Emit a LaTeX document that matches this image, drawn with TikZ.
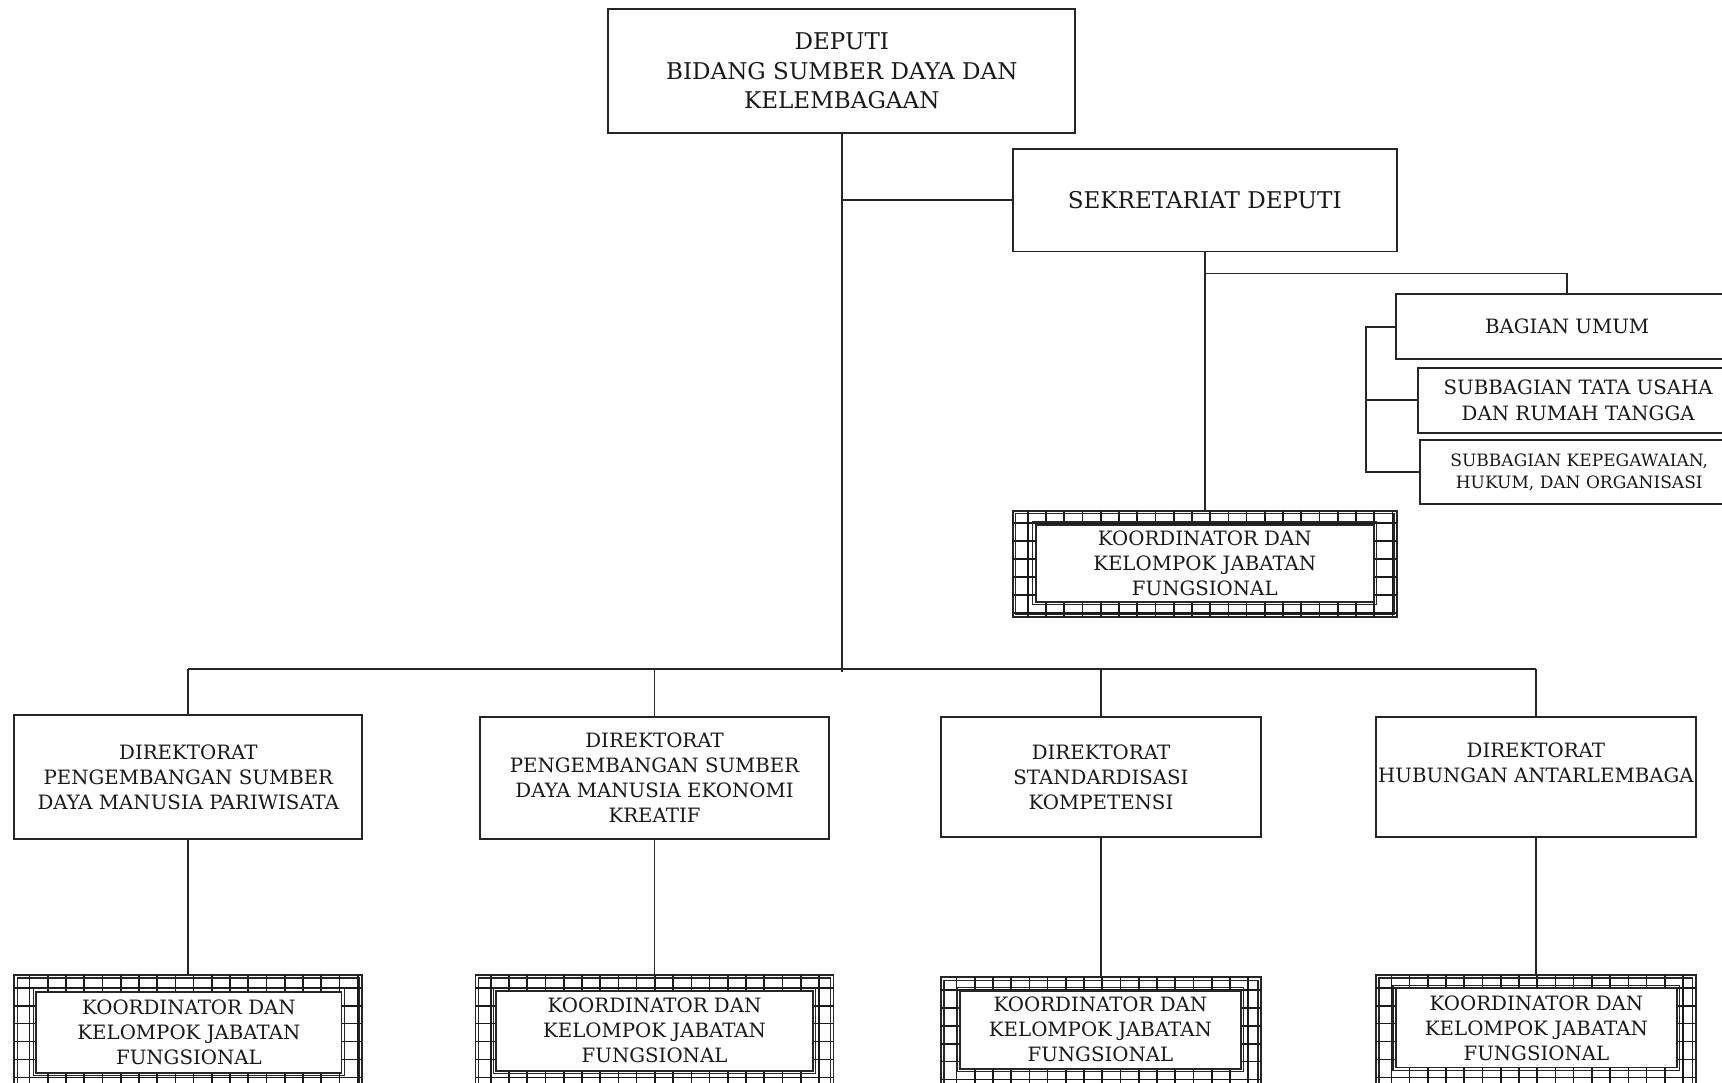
\documentclass[tikz,border=0pt]{standalone}
\usepackage{fontspec}
\setmainfont{DejaVu Serif}
\usetikzlibrary{fit}
\newcommand\mainsz{\fontsize{18}{22.8}\selectfont}
\newcommand\bigsz{\fontsize{21}{26.8}\selectfont}
\newcommand\smallsz{\fontsize{15.5}{19.5}\selectfont}
\tikzset{
  boxln/.style={draw=black!85, line width=1.7pt},
  box/.style={boxln, inner sep=0pt, align=center, font=\mainsz, fill=white, text=black!90},
  bigbox/.style={box, font=\bigsz},
  smallbox/.style={box, font=\smallsz},
  txt/.style={inner sep=0pt, align=center, font=\mainsz, text=black!90},
  conn/.style={draw=black!85, line width=1.7pt},
  gridln/.style={draw=black!90, line width=1.5pt},
  thinln/.style={draw=black!85, line width=1.1pt},
}
% name, x1, y1, x2, y2, ix1, iy1, ix2, iy2
\newcommand\koorbox[9]{%
  \path (#2,#3) coordinate (#1-a) (#4,#5) coordinate (#1-b)
        (#6,#7) coordinate (#1-c) (#8,#9) coordinate (#1-d);
  \node[fit=(#1-a)(#1-b), inner sep=0pt, boxln] (#1) {};
  \begin{scope}[even odd rule]
    \clip (#1-a) rectangle (#1-b) (#1-c) rectangle (#1-d);
    \foreach \i in {0,...,23} \draw[gridln] ({#2-2.7+\i*16.6},#3) -- ++(0,120);
    \foreach \j in {0,...,8} \draw[gridln] (#2,{#3+11.5+\j*16.3}) -- ++(400,0);
  \end{scope}
  \draw[thinln] ([shift={(2.6,2.6)}]#1-a) rectangle ([shift={(-2.6,-2.6)}]#1-b);
  \draw[thinln] ([shift={(-2.6,-2.6)}]#1-c) rectangle ([shift={(2.6,2.6)}]#1-d);
  \draw[boxln, fill=white] (#1-c) rectangle (#1-d);
  \node[txt] (#1-t) at ({(#6+#8)/2},{(#7+#9)/2}) {KOORDINATOR DAN\\KELOMPOK JABATAN\\FUNGSIONAL};
}
\begin{document}
\begin{tikzpicture}[x=1pt,y=-1pt]
\clip (0,0) rectangle (1568,985.3);
\fill[white] (0,0) rectangle (1568,985.3);

% top level
\node[bigbox, minimum width=425pt, minimum height=113pt] (dep) at (766.5,64.5)
  {DEPUTI\\BIDANG SUMBER DAYA DAN\\KELEMBAGAAN};
\node[bigbox, minimum width=350pt, minimum height=93pt] (sek) at (1097,182.5)
  {SEKRETARIAT DEPUTI};

% bagian umum group
\node[box, minimum width=312pt, minimum height=59pt] (umum) at (1427,297.5) {BAGIAN UMUM};
\node[box, minimum width=292pt, minimum height=59pt] (tu) at (1437,364.5)
  {SUBBAGIAN TATA USAHA\\DAN RUMAH TANGGA};
\node[smallbox, minimum width=290pt, minimum height=58pt] (kep) at (1438,430)
  {SUBBAGIAN KEPEGAWAIAN,\\HUKUM, DAN ORGANISASI};

% koordinator sekretariat
\koorbox{ks}{922}{465}{1272}{562}{943}{478}{1251}{548}

% direktorat
\node[box, minimum width=317pt, minimum height=113pt] (d1) at (171.5,707.5)
  {DIREKTORAT\\PENGEMBANGAN SUMBER\\DAYA MANUSIA PARIWISATA};
\node[box, minimum width=318pt, minimum height=111pt] (d2) at (596,708.5)
  {DIREKTORAT\\PENGEMBANGAN SUMBER\\DAYA MANUSIA EKONOMI\\KREATIF};
\node[box, minimum width=291pt, minimum height=109pt] (d3) at (1002.5,707.5)
  {DIREKTORAT\\STANDARDISASI\\KOMPETENSI};
\node[box, minimum width=291pt, minimum height=109pt] (d4) at (1398.5,707.5)
  {DIREKTORAT\\HUBUNGAN ANTARLEMBAGA\\[4pt]};

% koordinator bottom row
\koorbox{k1}{13}{888}{330}{992}{33}{903}{311}{977}
\koorbox{k2}{433}{888}{759}{992}{452}{902}{740}{975}
\koorbox{k3}{857}{890}{1148}{992}{874}{902}{1130}{973}
\koorbox{k4}{1253}{888}{1544}{992}{1271}{900}{1527}{972}

% connector helper coordinates
\coordinate (bus) at (0,609.5);
\coordinate (sekbus) at (0,249);
\coordinate (brk) at (1244,0);
\coordinate (mainend) at (767,612);

% connectors
\draw[conn] (dep.south) -- (dep.south |- mainend);
\draw[conn] (dep.south |- sek.west) -- (sek.west);
\draw[conn] (d1.north |- bus) -- (d4.north |- bus);
\draw[conn] (d2.north |- bus) -- (d3.north |- bus);
\foreach \d in {d1,d2,d3,d4} \draw[conn] (\d.north |- bus) -- (\d.north);
\draw[conn] (d1.south) -- (k1.north);
\draw[conn] (d2.south) -- (k2.north);
\draw[conn] (d3.south) -- (k3.north);
\draw[conn] (d4.south) -- (k4.north);
\draw[conn] (sek.south) -- (ks.north);
\draw[conn] (sek.south |- sekbus) -| (umum.north);
\draw[conn] (umum.west) -- (umum.west -| brk) |- (kep.west);
\draw[conn] (tu.west -| brk) -- (tu.west);
\end{tikzpicture}
\end{document}
